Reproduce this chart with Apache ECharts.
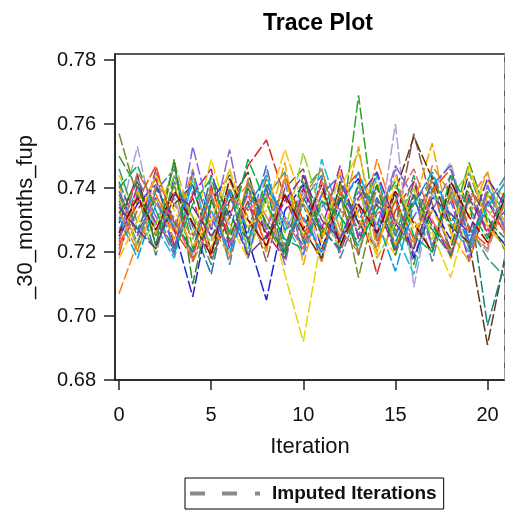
<!DOCTYPE html>
<html><head><meta charset="utf-8">
<script src="https://cdn.jsdelivr.net/npm/echarts@6/dist/echarts.min.js"></script>
<style>html,body{margin:0;padding:0;background:#fff}#c{width:505px;height:512px}</style>
</head><body><div id="c"></div>
<script>
var iterations = [0,1,2,3,4,5,6,7,8,9,10,11,12,13,14,15,16,17,18,19,20,21];
var xTicks = [0,5,10,15,20];
var yTicks = [0.68,0.70,0.72,0.74,0.76,0.78];
var chainColors = ['#2A6EBB','#D62728','#2CA02C','#9467BD','#FF7F0E','#E8D500','#17BECF','#8C564B','#B39DDB','#1F1FCC','#3D9970','#C71585','#F4A300','#6B8E23','#4682B4','#5D3A1A','#FF4500','#9ACD32','#7B68EE','#1B7F7A','#CD853F','#DAA520','#4169E1','#228B22','#8B0000','#00A0E0','#FFC000','#00B050','#7030A0','#E06666'];
var chain01 = [0.724,0.738,0.719,0.744,0.728,0.713,0.740,0.726,0.747,0.722,0.735,0.717,0.739,0.729,0.745,0.721,0.736,0.742,0.718,0.738,0.727,0.733];
var chain02 = [0.721,0.733,0.743,0.722,0.737,0.718,0.731,0.747,0.755,0.737,0.724,0.743,0.720,0.735,0.713,0.733,0.742,0.722,0.738,0.717,0.736,0.725];
var chain03 = [0.750,0.740,0.729,0.747,0.721,0.738,0.718,0.742,0.728,0.719,0.739,0.746,0.723,0.769,0.724,0.736,0.716,0.740,0.727,0.748,0.731,0.720];
var chain04 = [0.735,0.722,0.745,0.719,0.739,0.727,0.752,0.723,0.737,0.716,0.742,0.728,0.720,0.741,0.725,0.746,0.719,0.733,0.744,0.722,0.738,0.729];
var chain05 = [0.707,0.723,0.738,0.726,0.746,0.719,0.735,0.741,0.721,0.744,0.728,0.717,0.739,0.725,0.749,0.730,0.722,0.743,0.718,0.736,0.745,0.724];
var chain06 = [0.744,0.731,0.720,0.741,0.726,0.749,0.729,0.718,0.737,0.713,0.692,0.725,0.740,0.751,0.728,0.719,0.739,0.726,0.712,0.733,0.742,0.737];
var chain07 = [0.727,0.740,0.728,0.718,0.743,0.724,0.738,0.721,0.741,0.729,0.719,0.749,0.731,0.722,0.744,0.726,0.713,0.738,0.729,0.720,0.740,0.732];
var chain08 = [0.738,0.725,0.746,0.729,0.720,0.741,0.723,0.736,0.717,0.740,0.746,0.724,0.737,0.719,0.741,0.728,0.757,0.735,0.721,0.742,0.725,0.736];
var chain09 = [0.730,0.753,0.726,0.737,0.719,0.742,0.728,0.721,0.745,0.726,0.739,0.718,0.736,0.729,0.722,0.760,0.709,0.739,0.748,0.727,0.720,0.738];
var chain10 = [0.725,0.735,0.741,0.727,0.706,0.736,0.744,0.724,0.705,0.733,0.741,0.721,0.736,0.743,0.726,0.738,0.718,0.734,0.724,0.745,0.729,0.722];
var chain11 = [0.746,0.729,0.721,0.742,0.731,0.716,0.740,0.727,0.737,0.745,0.723,0.734,0.742,0.720,0.736,0.725,0.744,0.721,0.739,0.728,0.718,0.712];
var chain12 = [0.719,0.741,0.729,0.722,0.738,0.746,0.721,0.735,0.726,0.718,0.740,0.727,0.747,0.724,0.735,0.720,0.742,0.729,0.719,0.737,0.726,0.740];
var chain13 = [0.741,0.720,0.737,0.724,0.744,0.728,0.719,0.740,0.727,0.748,0.716,0.739,0.725,0.736,0.742,0.722,0.735,0.754,0.726,0.717,0.738,0.729];
var chain14 = [0.757,0.737,0.725,0.741,0.717,0.733,0.739,0.723,0.743,0.720,0.735,0.726,0.740,0.712,0.737,0.727,0.721,0.744,0.730,0.722,0.739,0.727];
var chain15 = [0.736,0.723,0.739,0.746,0.725,0.738,0.716,0.742,0.729,0.721,0.736,0.744,0.718,0.733,0.740,0.725,0.738,0.717,0.741,0.721,0.735,0.744];
var chain16 = [0.729,0.744,0.722,0.735,0.741,0.720,0.736,0.745,0.724,0.738,0.727,0.718,0.742,0.729,0.721,0.739,0.756,0.743,0.728,0.723,0.691,0.720];
var chain17 = [0.722,0.736,0.747,0.727,0.718,0.740,0.725,0.738,0.721,0.743,0.730,0.720,0.738,0.745,0.723,0.736,0.724,0.739,0.746,0.727,0.722,0.738];
var chain18 = [0.737,0.722,0.729,0.744,0.731,0.723,0.746,0.719,0.739,0.726,0.751,0.732,0.721,0.741,0.718,0.729,0.740,0.724,0.737,0.745,0.730,0.743];
var chain19 = [0.726,0.743,0.731,0.719,0.753,0.730,0.722,0.739,0.727,0.742,0.719,0.736,0.724,0.739,0.728,0.747,0.737,0.722,0.736,0.718,0.741,0.726];
var chain20 = [0.742,0.727,0.740,0.730,0.720,0.744,0.731,0.724,0.740,0.718,0.737,0.727,0.721,0.742,0.731,0.723,0.736,0.727,0.719,0.737,0.697,0.718];
var chain21 = [0.733,0.720,0.741,0.735,0.724,0.739,0.718,0.743,0.731,0.722,0.737,0.746,0.727,0.720,0.740,0.730,0.723,0.747,0.738,0.726,0.721,0.736];
var chain22 = [0.720,0.739,0.726,0.748,0.729,0.721,0.742,0.731,0.720,0.743,0.725,0.738,0.728,0.753,0.720,0.741,0.730,0.720,0.740,0.731,0.745,0.724];
var chain23 = [0.739,0.726,0.737,0.721,0.745,0.727,0.739,0.718,0.741,0.731,0.722,0.738,0.744,0.725,0.737,0.721,0.731,0.741,0.747,0.723,0.736,0.728];
var chain24 = [0.732,0.742,0.722,0.749,0.710,0.736,0.724,0.740,0.729,0.720,0.744,0.725,0.737,0.727,0.741,0.719,0.738,0.728,0.721,0.741,0.730,0.724];
var chain25 = [0.726,0.737,0.727,0.739,0.729,0.719,0.743,0.730,0.722,0.738,0.727,0.741,0.722,0.735,0.726,0.739,0.729,0.720,0.742,0.731,0.723,0.738];
var chain26 = [0.731,0.718,0.735,0.728,0.741,0.733,0.720,0.734,0.744,0.727,0.731,0.720,0.733,0.745,0.730,0.714,0.735,0.745,0.731,0.725,0.734,0.742];
var chain27 = [0.718,0.730,0.744,0.733,0.722,0.730,0.746,0.728,0.733,0.752,0.735,0.723,0.745,0.731,0.719,0.744,0.727,0.733,0.723,0.747,0.728,0.721];
var chain28 = [0.740,0.747,0.733,0.720,0.735,0.743,0.726,0.749,0.735,0.724,0.721,0.736,0.731,0.723,0.733,0.742,0.725,0.720,0.744,0.734,0.724,0.739];
var chain29 = [0.734,0.727,0.721,0.738,0.734,0.725,0.733,0.719,0.725,0.736,0.744,0.730,0.724,0.737,0.745,0.729,0.721,0.737,0.732,0.726,0.743,0.734];
var chain30 = [0.723,0.745,0.735,0.731,0.717,0.729,0.737,0.733,0.738,0.730,0.721,0.742,0.733,0.728,0.732,0.736,0.746,0.730,0.720,0.739,0.733,0.726];
var chains = [chain01,chain02,chain03,chain04,chain05,chain06,chain07,chain08,chain09,chain10,chain11,chain12,chain13,chain14,chain15,chain16,chain17,chain18,chain19,chain20,chain21,chain22,chain23,chain24,chain25,chain26,chain27,chain28,chain29,chain30];
var refLineX = 20.92;

var chart = echarts.init(document.getElementById('c'));
var series = chains.map(function (vals, i) {
  return {
    type: 'line', name: 'chain' + (i + 1), symbol: 'none', silent: true,
    data: iterations.map(function (it, k) { return [it, vals[k]]; }),
    lineStyle: { color: chainColors[i], width: 1.5, type: [12, 3] },
    z: 2
  };
});
series.push({
  type: 'line', name: 'Imputed Iterations', symbol: 'none', data: [],
  itemStyle: { color: '#8a8a8a' },
  lineStyle: { color: '#8a8a8a', width: 3, type: [16, 8] },
  markLine: {
    silent: true, symbol: 'none', label: { show: false },
    lineStyle: { color: '#999', width: 2, type: [12, 5] },
    data: [{ xAxis: refLineX }]
  }
});
var font = 'Liberation Sans, Arial, sans-serif';
chart.setOption({
  animation: false,
  title: { text: 'Trace Plot', left: 313, top: 7, textAlign: 'center',
    textStyle: { fontFamily: font, fontSize: 23, fontWeight: 'bold', color: '#000' } },
  legend: {
    data: [{ name: 'Imputed Iterations', icon: 'path://M0,0h15v4h-15z M32,0h15v4h-15z M65,0h5v4h-5z' }],
    left: 185, top: 478,
    itemWidth: 70, itemHeight: 4, itemStyle: { color: '#8a8a8a' },
    borderColor: '#000', borderWidth: 1,
    padding: [6, 7, 6, 5], selectedMode: false,
    textStyle: { fontFamily: font, fontSize: 19, fontWeight: 'bold', color: '#111', padding: [0, 0, 0, 7] }
  },
  grid: { left: 115, top: 54, right: 0, height: 326, show: true, borderColor: '#222', borderWidth: 1.5, backgroundColor: 'transparent' },
  xAxis: {
    type: 'value', min: -0.22, max: 20.95,
    name: 'Iteration', nameLocation: 'middle', nameGap: 56,
    nameTextStyle: { fontFamily: font, fontSize: 22, color: '#111' },
    axisLine: { show: true, onZero: false, lineStyle: { color: '#222', width: 1.5 } },
    axisTick: { show: true, length: 10, customValues: xTicks, lineStyle: { color: '#222', width: 1.5 } },
    axisLabel: { customValues: xTicks, margin: 25, fontFamily: font, fontSize: 20, color: '#111' },
    splitLine: { show: false }
  },
  yAxis: {
    type: 'value', min: 0.68, max: 0.7819,
    name: '_30_months_fup', nameLocation: 'middle', nameGap: 78, nameRotate: 90,
    nameTextStyle: { fontFamily: font, fontSize: 22, color: '#111' },
    axisLine: { show: true, onZero: false, lineStyle: { color: '#222', width: 1.5 } },
    axisTick: { show: true, length: 11, customValues: yTicks, lineStyle: { color: '#222', width: 1.5 } },
    axisLabel: { customValues: yTicks, margin: 19, fontFamily: font, fontSize: 20, color: '#111',
      formatter: function (v) { return v.toFixed(2); } },
    splitLine: { show: false }
  },
  series: series
});
</script></body></html>
